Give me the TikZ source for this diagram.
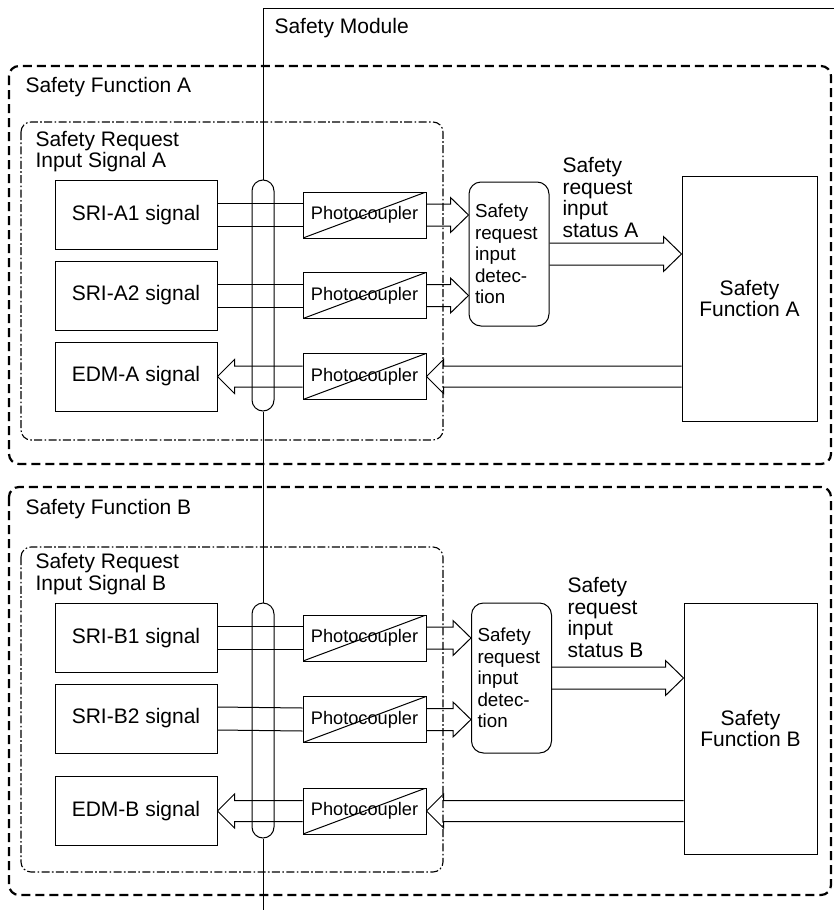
\documentclass[tikz,border=0pt]{standalone}
\usepackage{fontspec}
\setmainfont{Liberation Sans}
\usetikzlibrary{calc}

\begin{document}
\begin{tikzpicture}[x=0.5pt, y=-0.5pt, line width=0.5pt,
    every node/.style={font=\fontsize{10.5}{10.85}\selectfont},
    sig/.style={draw, minimum width=81pt, minimum height=34.5pt, inner sep=0pt},
    pc/.style={draw, minimum width=61.5pt, minimum height=23pt, inner sep=0pt, font=\fontsize{9.1}{10}\selectfont,
      path picture={\draw (path picture bounding box.south west) -- (path picture bounding box.north east);}},
    oval/.style={draw, rounded corners=5.5pt, minimum width=11pt, inner sep=0pt},
    det/.style={draw, rounded corners=6pt, text width=34pt, align=left, inner xsep=3pt, inner ysep=0pt, font=\fontsize{9.4}{10.8}\selectfont},
    func/.style={draw, inner sep=0pt, align=center},
    grp/.style={draw, line width=1.1pt, dash pattern=on 4.5pt off 2.5pt, rounded corners=5pt},
    sub/.style={draw, line width=0.55pt, dash pattern=on 4pt off 1.2pt on 0.8pt off 1.2pt, rounded corners=5pt},
    lbl/.style={align=left, inner sep=0pt, anchor=north west},
    ttl/.style={inner sep=0pt, anchor=base west}
]
\newcommand{\hR}[2]{\draw ($(#1)+(0,-11)$) -- ($(#2)+(-18,-11)$) -- ($(#2)+(-18,-17.5)$) -- (#2) --
    ($(#2)+(-18,17.5)$) -- ($(#2)+(-18,11)$) -- ($(#1)+(0,11)$);}
\newcommand{\hL}[2]{\draw ($(#1)+(0,-10.5)$) -- ($(#2)+(17,-10.5)$) -- ($(#2)+(17,-17)$) -- (#2) --
    ($(#2)+(17,17)$) -- ($(#2)+(17,10.5)$) -- ($(#1)+(0,10.5)$);}
\newcommand{\twoln}[2]{\draw ($(#1)+(0,-11.5)$) -- ($(#2)+(0,-11.5)$); \draw ($(#1)+(0,11.5)$) -- ($(#2)+(0,11.5)$);}

\useasboundingbox (0,0) rectangle (834,910);

\coordinate (mTop) at (263,8);
\coordinate (mEnd) at (834,8);
\coordinate (mBot) at (263,910);
\node[ttl] (mod) at (274,33) {Safety Module};

\draw[grp] (9,66) rectangle (831,464);
\draw[sub] (21,122) rectangle (443,440);
\node[ttl] (titA) at (25,92.7) {Safety Function A};
\node[lbl] (inA) at (35,130.4) {Safety Request\\Input Signal A};

\node[sig] (sA1) at (136,215) {SRI-A1 signal};
\node[sig] (sA2) at (136,295.5) {SRI-A2 signal};
\node[sig] (eA) at (136,376.5) {EDM-A signal};
\node[oval, minimum height=115.5pt] (ovA) at (263,295.5) {};
\node[pc] (pcA1) at (364.5,215) {Photocoupler};
\node[pc] (pcA2) at (364.5,295.5) {Photocoupler};
\node[pc] (pcEA) at (364.5,376.5) {Photocoupler};
\node[det, minimum height=72pt] (detA) at (509,254) {Safety\\request\\input\\detec-\\tion};
\node[func, minimum width=67.5pt, minimum height=122.5pt] (sfA) at (749.5,298.5) {Safety\\Function A};
\node[lbl] (stA) at (562,156.7) {Safety\\request\\input\\status A};

\coordinate (tA1) at (detA.west |- pcA1.east);
\coordinate (tA2) at (detA.west |- pcA2.east);
\coordinate (tSA) at (sfA.west |- detA.east);
\coordinate (fEA) at (sfA.west |- pcEA.east);

\twoln{sA1.east}{pcA1.west}
\twoln{sA2.east}{pcA2.west}
\hR{pcA1.east}{tA1}
\hR{pcA2.east}{tA2}
\hR{detA.east}{tSA}
\hL{fEA}{pcEA.east}
\hL{pcEA.west}{eA.east}

\draw[grp] (9,487) rectangle (831,895);
\draw[sub] (21,547) rectangle (443,872);
\node[ttl] (titB) at (25,514) {Safety Function B};
\node[lbl] (inB) at (35,552.7) {Safety Request\\Input Signal B};

\node[sig] (sB1) at (136,638) {SRI-B1 signal};
\node[sig] (sB2) at (136,718.5) {SRI-B2 signal};
\node[sig] (eB) at (136,811) {EDM-B signal};
\node[oval, minimum height=117.5pt] (ovB) at (263,720.5) {};
\node[pc] (pcB1) at (364.5,638) {Photocoupler};
\node[pc] (pcB2) at (364.5,719.5) {Photocoupler};
\node[pc] (pcEB) at (364.5,811) {Photocoupler};
\node[det, minimum height=75pt] (detB) at (511.5,678) {Safety\\request\\input\\detec-\\tion};
\node[func, minimum width=66.5pt, minimum height=125.5pt] (sfB) at (750.5,728.5) {Safety\\Function B};
\node[lbl] (stB) at (567,576.7) {Safety\\request\\input\\status B};

\coordinate (tB1) at (detB.west |- pcB1.east);
\coordinate (tB2) at (detB.west |- pcB2.east);
\coordinate (tSB) at (sfB.west |- detB.east);
\coordinate (fEB) at (sfB.west |- pcEB.east);

\twoln{sB1.east}{pcB1.west}
\twoln{sB2.east}{pcB2.west}
\hR{pcB1.east}{tB1}
\hR{pcB2.east}{tB2}
\hR{detB.east}{tSB}
\hL{fEB}{pcEB.east}
\hL{pcEB.west}{eB.east}

\draw (mEnd) -- (mTop) -- (ovA.north);
\draw (ovA.south) -- (ovB.north);
\draw (ovB.south) -- (mBot);
\end{tikzpicture}
\end{document}
